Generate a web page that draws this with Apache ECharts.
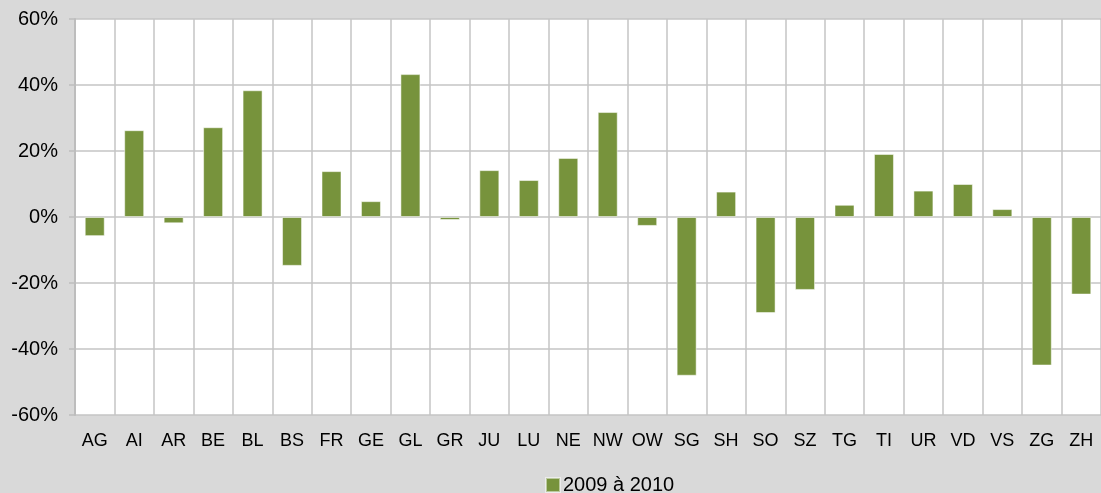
<!DOCTYPE html>
<html>
<head>
<meta charset="utf-8">
<script src="https://cdn.jsdelivr.net/npm/echarts@6/dist/echarts.min.js"></script>
<style>
  html, body { margin: 0; padding: 0; background: #d9d9d9; }
  #chart { width: 1101px; height: 493px; }
</style>
</head>
<body>
<div id="chart"></div>
<script>
// cantons, change 2009 -> 2010 in %
const cantons = ['AG', 'AI', 'AR', 'BE', 'BL', 'BS', 'FR', 'GE', 'GL', 'GR', 'JU', 'LU', 'NE',
  'NW', 'OW', 'SG', 'SH', 'SO', 'SZ', 'TG', 'TI', 'UR', 'VD', 'VS', 'ZG', 'ZH']
const change = [-5.8, 26.3, -1.9, 27.2, 38.4, -14.8, 13.9, 4.8, 43.3, -0.9, 14.2, 11.2, 17.9,
  31.8, -2.7, -48.1, 7.7, -29.1, -22.1, 3.7, 19.1, 8.0, 10.0, 2.4, -45.0, -23.5]
const seriesName = '2009 à 2010'

const font = "'Liberation Sans', Arial, sans-serif"
const gridColor = '#c4c4c4'

const chart = echarts.init(document.getElementById('chart'))
chart.setOption({
  backgroundColor: '#d9d9d9',
  animation: false,
  textStyle: { fontFamily: font },
  grid: {
    left: 75,
    top: 19,
    width: 1035,
    height: 396,
    show: true,
    backgroundColor: '#ffffff',
    borderWidth: 0
  },
  legend: {
    data: [seriesName],
    left: 545,
    top: 475,
    padding: 0,
    itemWidth: 14,
    itemHeight: 14,
    icon: 'rect',
    textStyle: { fontSize: 20, color: '#000', fontFamily: font, padding: [0, 0, 0, -2] }
  },
  xAxis: {
    type: 'category',
    data: cantons,
    axisLine: { show: false },
    axisTick: { show: false },
    splitLine: { show: true, interval: 0, lineStyle: { color: gridColor, width: 1.5 } },
    axisLabel: { interval: 0, fontSize: 18, color: '#000', margin: 17, fontFamily: font }
  },
  yAxis: {
    type: 'value',
    min: -60,
    max: 60,
    interval: 20,
    axisLine: { show: true, lineStyle: { color: '#bdbdbd', width: 2 } },
    axisTick: { show: true, length: 6, lineStyle: { color: '#bdbdbd', width: 1.5 } },
    splitLine: { show: true, lineStyle: { color: gridColor, width: 1.5 } },
    axisLabel: {
      fontSize: 20,
      color: '#000',
      margin: 17,
      fontFamily: font,
      formatter: v => v + '%'
    }
  },
  series: [{
    name: seriesName,
    type: 'bar',
    data: change,
    barWidth: 20,
    itemStyle: { color: '#77933c', borderColor: 'rgba(255,255,255,0.5)', borderWidth: 1 }
  }]
})
</script>
</body>
</html>
